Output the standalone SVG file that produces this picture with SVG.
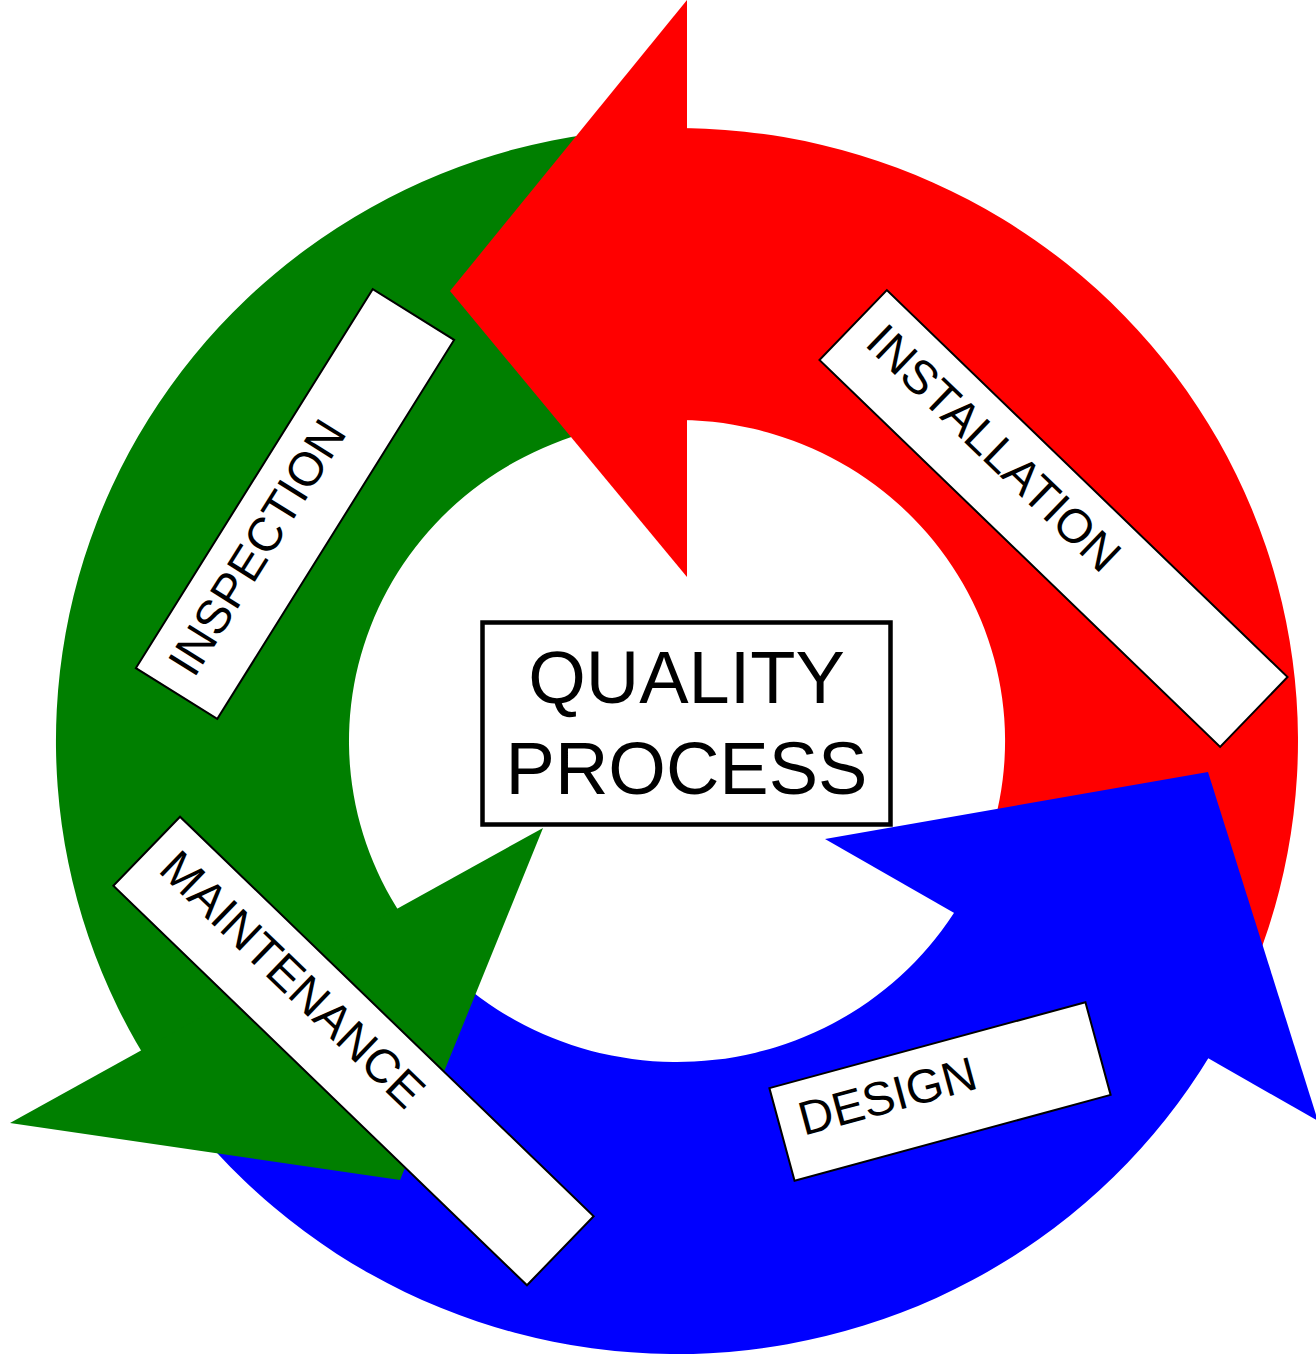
<svg xmlns="http://www.w3.org/2000/svg" width="1316" height="1355" viewBox="0 0 1316 1355">
  <style>
    .red { fill: #ff0000; }
    .blue { fill: #0000ff; }
    .green { fill: #007f00; }
    .lbl rect { fill: #ffffff; stroke: #000000; stroke-width: 2; }
    .lbl text { font-family: "Liberation Sans", Arial, sans-serif; font-size: 47.5px; fill: #000000; }
    .center rect { fill: #ffffff; stroke: #000000; stroke-width: 4.5; }
    .center text { font-family: "Liberation Sans", Arial, sans-serif; font-size: 74px; fill: #000000; text-anchor: middle; }
  </style>
  <rect x="0" y="0" width="1316" height="1355" fill="#ffffff"/>
  <g id="connectors">
    <!-- arrow bodies -->
    <path id="red-body" class="red" d="M 666.2,128.1 A 621 613 0 0 1 1239.8,1000.1 L 974.3,876.7 A 328 321 0 0 0 671.3,420 Z"/>
    <path id="blue-body" class="blue" d="M 1220.1,1038.2 A 621 613 0 0 1 168.3,1092.6 L 408.3,925.1 A 328 321 0 0 0 963.9,896.6 Z"/>
    <path id="green-body" class="green" d="M 156.2,1074.9 A 621 613 0 0 1 590.6,133.9 L 631.3,423.1 A 328 321 0 0 0 401.9,915.8 Z"/>
    <!-- arrow heads -->
    <polygon id="red-head" class="red" points="687,0 450,291 687,577"/>
    <polygon id="blue-head" class="blue" points="825,839 1208,772 1318,1121"/>
    <polygon id="green-head" class="green" points="543,828 10,1123 400,1180"/>
  </g>
  <g id="installation" class="lbl" transform="translate(1053.5,518.5) rotate(44)">
    <rect x="-278.5" y="-48.5" width="557" height="97"/>
    <text x="-257.5" y="7">INSTALLATION</text>
  </g>
  <g id="inspection" class="lbl" transform="translate(295,504) rotate(-58)">
    <rect x="-223.5" y="-48" width="447" height="96"/>
    <text x="-202" y="7">INSPECTION</text>
  </g>
  <g id="maintenance" class="lbl" transform="translate(353.5,1051) rotate(44)">
    <rect x="-287.5" y="-48" width="575" height="96"/>
    <text x="-266.5" y="7">MAINTENANCE</text>
  </g>
  <g id="design" class="lbl" transform="translate(940,1091.5) rotate(-15.2)">
    <rect x="-163.75" y="-48" width="327.5" height="96"/>
    <text x="-143" y="7">DESIGN</text>
  </g>
  <g id="quality-process" class="center">
    <rect x="482.5" y="622.5" width="408" height="202"/>
    <text x="686.5" y="703">QUALITY</text>
    <text x="686.5" y="794">PROCESS</text>
  </g>
</svg>
